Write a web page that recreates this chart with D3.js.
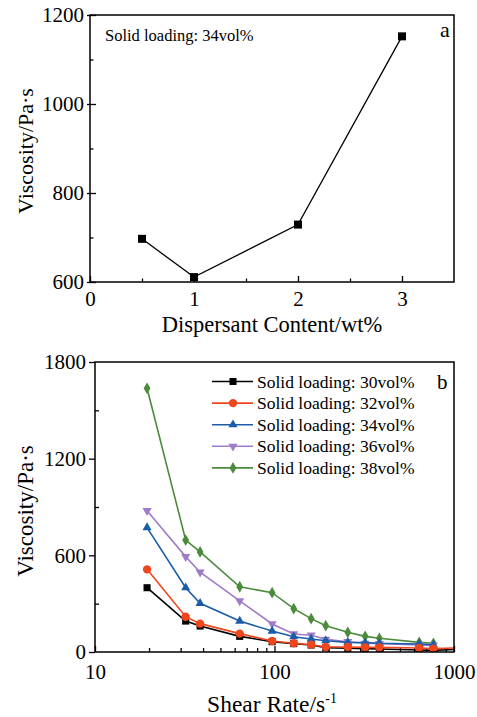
<!DOCTYPE html>
<html><head><meta charset="utf-8">
<script src="https://cdn.jsdelivr.net/npm/d3@7/dist/d3.min.js"></script>
<style>body{margin:0;background:#fff}svg{display:block}text{font-family:"Liberation Serif","Times New Roman",serif;fill:#000}</style>
</head><body><svg id="c" width="477" height="717"></svg>
<script>
// ---- Panel a data ----
const dispersant = [0.5, 1, 2, 3];
const viscosityA = [697, 611, 729, 1152];
const aXTicks = [0, 1, 2, 3];
const aYTicks = [600, 800, 1000, 1200];

// ---- Panel b data ----
const shearRate = [19.5, 32, 38.5, 64, 97, 128, 160, 193, 256, 320, 384, 640, 768, 1200];
const seriesNames = ["Solid loading: 30vol%", "Solid loading: 32vol%", "Solid loading: 34vol%", "Solid loading: 36vol%", "Solid loading: 38vol%"];
const v30 = [399, 192, 161, 97, 64, 52, 43, 27, 23, 21, 19, 12, 10, 19];
const v32 = [513, 219, 176, 114, 68, 54, 45, 31, 31, 29, 29, 25, 21, 27];
const v34 = [772, 399, 302, 192, 130, 95, 81, 70, 60, 58, 54, 50, 45];
const v36 = [877, 592, 495, 317, 174, 112, 104, 79, 64, 54, 52, 43, 41];
const v38 = [1637, 695, 621, 405, 368, 269, 207, 163, 122, 97, 85, 60, 54];
const seriesValues = [v30, v32, v34, v36, v38];
const seriesColors = ["#000000", "#f0461e", "#1b5caa", "#a07cc8", "#4b8b3b"];
const bXTicks = [10, 100, 1000];
const bYTicks = [0, 600, 1200, 1800];

const svg = d3.select("#c");

function styleAxis(g, fs) {
  g.select(".domain").remove();
  g.selectAll("line").attr("stroke-width", 1.3);
  g.selectAll("text").attr("font-size", fs).attr("font-family", null);
}

// ================= Panel a =================
const A = {l: 90, r: 454, t: 15, b: 282};
const xa = d3.scaleLinear().domain([0, 3.5]).range([A.l, A.r]);
const ya = d3.scaleLinear().domain([600, 1200]).range([A.b, A.t]);
const ga = svg.append("g");
// x ticks
ga.append("g").attr("transform", `translate(0,${A.b})`)
  .call(d3.axisBottom(xa).tickValues(aXTicks).tickSize(-6).tickPadding(9).tickFormat(d3.format("d")))
  .call(g => { styleAxis(g, 21); g.selectAll("text").attr("dy", "0.71em"); });
ga.append("g").attr("transform", `translate(0,${A.b})`)
  .call(d3.axisBottom(xa).tickValues([0.5, 1.5, 2.5]).tickSize(-3.5).tickFormat(""))
  .call(g => styleAxis(g, 0));
// y ticks
ga.append("g").attr("transform", `translate(${A.l},0)`)
  .call(d3.axisLeft(ya).tickValues(aYTicks).tickSize(-6).tickPadding(6).tickFormat(d3.format("d")))
  .call(g => { styleAxis(g, 21); g.selectAll("line").attr("x1", -3); });
ga.append("g").attr("transform", `translate(${A.l},0)`)
  .call(d3.axisLeft(ya).tickValues([700, 900, 1100]).tickSize(-3.5).tickFormat(""))
  .call(g => styleAxis(g, 0));
ga.append("rect").attr("x", A.l).attr("y", A.t).attr("width", A.r - A.l).attr("height", A.b - A.t)
  .attr("fill", "none").attr("stroke", "#000").attr("stroke-width", 1.5);

const ptsA = dispersant.map((d, i) => [d, viscosityA[i]]);
ga.append("path").datum(ptsA)
  .attr("d", d3.line().x(d => xa(d[0])).y(d => ya(d[1])))
  .attr("fill", "none").attr("stroke", "#000").attr("stroke-width", 1.3);
ga.selectAll("rect.pt").data(ptsA).join("rect").attr("class", "pt")
  .attr("x", d => xa(d[0]) - 4).attr("y", d => ya(d[1]) - 4).attr("width", 8).attr("height", 8).attr("fill", "#000");

ga.append("text").attr("x", 105).attr("y", 40.5).attr("font-size", 16.5).text("Solid loading: 34vol%");
ga.append("text").attr("x", 440).attr("y", 37).attr("font-size", 22).text("a");
ga.append("text").attr("x", 272).attr("y", 332).attr("text-anchor", "middle").attr("font-size", 22.5).text("Dispersant Content/wt%");
ga.append("text").attr("transform", `translate(33,151) rotate(-90)`).attr("text-anchor", "middle").attr("font-size", 22).text("Viscosity/Pa·s");

// ================= Panel b =================
const B = {l: 95, r: 454, t: 362, b: 652};
const xb = d3.scaleLog().domain([10, 1000]).range([B.l, B.r]);
const yb = d3.scaleLinear().domain([0, 1800]).range([B.b, B.t]);
const gb = svg.append("g");
svg.append("defs").append("clipPath").attr("id", "clipB").append("rect")
  .attr("x", B.l).attr("y", B.t).attr("width", B.r - B.l).attr("height", B.b - B.t);

const minorX = [];
[10, 100].forEach(p => { for (let k = 2; k <= 9; k++) minorX.push(p * k); });
gb.append("g").attr("transform", `translate(0,${B.b})`)
  .call(d3.axisBottom(xb).tickValues(bXTicks).tickSize(-6).tickPadding(12).tickFormat(d3.format("d")))
  .call(g => { styleAxis(g, 21); g.selectAll("text").attr("dy", "0.71em"); });
gb.append("g").attr("transform", `translate(0,${B.b})`)
  .call(d3.axisBottom(xb).tickValues(minorX).tickSize(-4).tickFormat(""))
  .call(g => styleAxis(g, 0));
gb.append("g").attr("transform", `translate(${B.l},0)`)
  .call(d3.axisLeft(yb).tickValues(bYTicks).tickSize(6).tickPadding(3).tickFormat(d3.format("d")))
  .call(g => styleAxis(g, 21));
gb.append("g").attr("transform", `translate(${B.l},0)`)
  .call(d3.axisLeft(yb).tickValues([300, 900, 1500]).tickSize(-4).tickFormat(""))
  .call(g => styleAxis(g, 0));

const symTypes = [d3.symbolSquare, d3.symbolCircle, d3.symbolTriangle, d3.symbolTriangle, d3.symbolDiamond];
const symSizes = [50, 55, 36, 36, 40];
const symRot = [0, 0, 0, 180, 0];

const plotG = gb.append("g").attr("clip-path", "url(#clipB)");
const order = [4, 3, 2, 0, 1];
order.forEach(si => {
  const vals = seriesValues[si];
  const pts = vals.map((v, i) => [shearRate[i], v]);
  plotG.append("path").datum(pts)
    .attr("d", d3.line().x(d => xb(d[0])).y(d => yb(d[1])))
    .attr("fill", "none").attr("stroke", seriesColors[si]).attr("stroke-width", 1.6);
  plotG.selectAll(null).data(pts).join("path")
    .attr("transform", d => `translate(${xb(d[0])},${yb(d[1])}) rotate(${symRot[si]})`)
    .attr("d", d3.symbol().type(symTypes[si]).size(symSizes[si]))
    .attr("fill", seriesColors[si]);
});

gb.append("rect").attr("x", B.l).attr("y", B.t).attr("width", B.r - B.l).attr("height", B.b - B.t)
  .attr("fill", "none").attr("stroke", "#000").attr("stroke-width", 1.5);

// legend
const leg = gb.append("g");
seriesNames.forEach((name, i) => {
  const y = 381.5 + i * 21.6;
  leg.append("line").attr("x1", 212).attr("x2", 253).attr("y1", y).attr("y2", y)
    .attr("stroke", seriesColors[i]).attr("stroke-width", 1.6);
  leg.append("path").attr("transform", `translate(233,${y}) rotate(${symRot[i]})`)
    .attr("d", d3.symbol().type(symTypes[i]).size(symSizes[i])).attr("fill", seriesColors[i]);
  leg.append("text").attr("x", 257).attr("y", y).attr("dy", "0.35em").attr("font-size", 17.5).text(name);
});
gb.append("text").attr("x", 437).attr("y", 389).attr("font-size", 21).text("b");

const xl = gb.append("text").attr("x", 272).attr("y", 712).attr("text-anchor", "middle").attr("font-size", 23.5);
xl.append("tspan").text("Shear Rate/s");
xl.append("tspan").attr("dy", -9).attr("font-size", 14).text("-1");
gb.append("text").attr("transform", `translate(33,511) rotate(-90)`).attr("text-anchor", "middle").attr("font-size", 23).text("Viscosity/Pa·s");
</script></body></html>
